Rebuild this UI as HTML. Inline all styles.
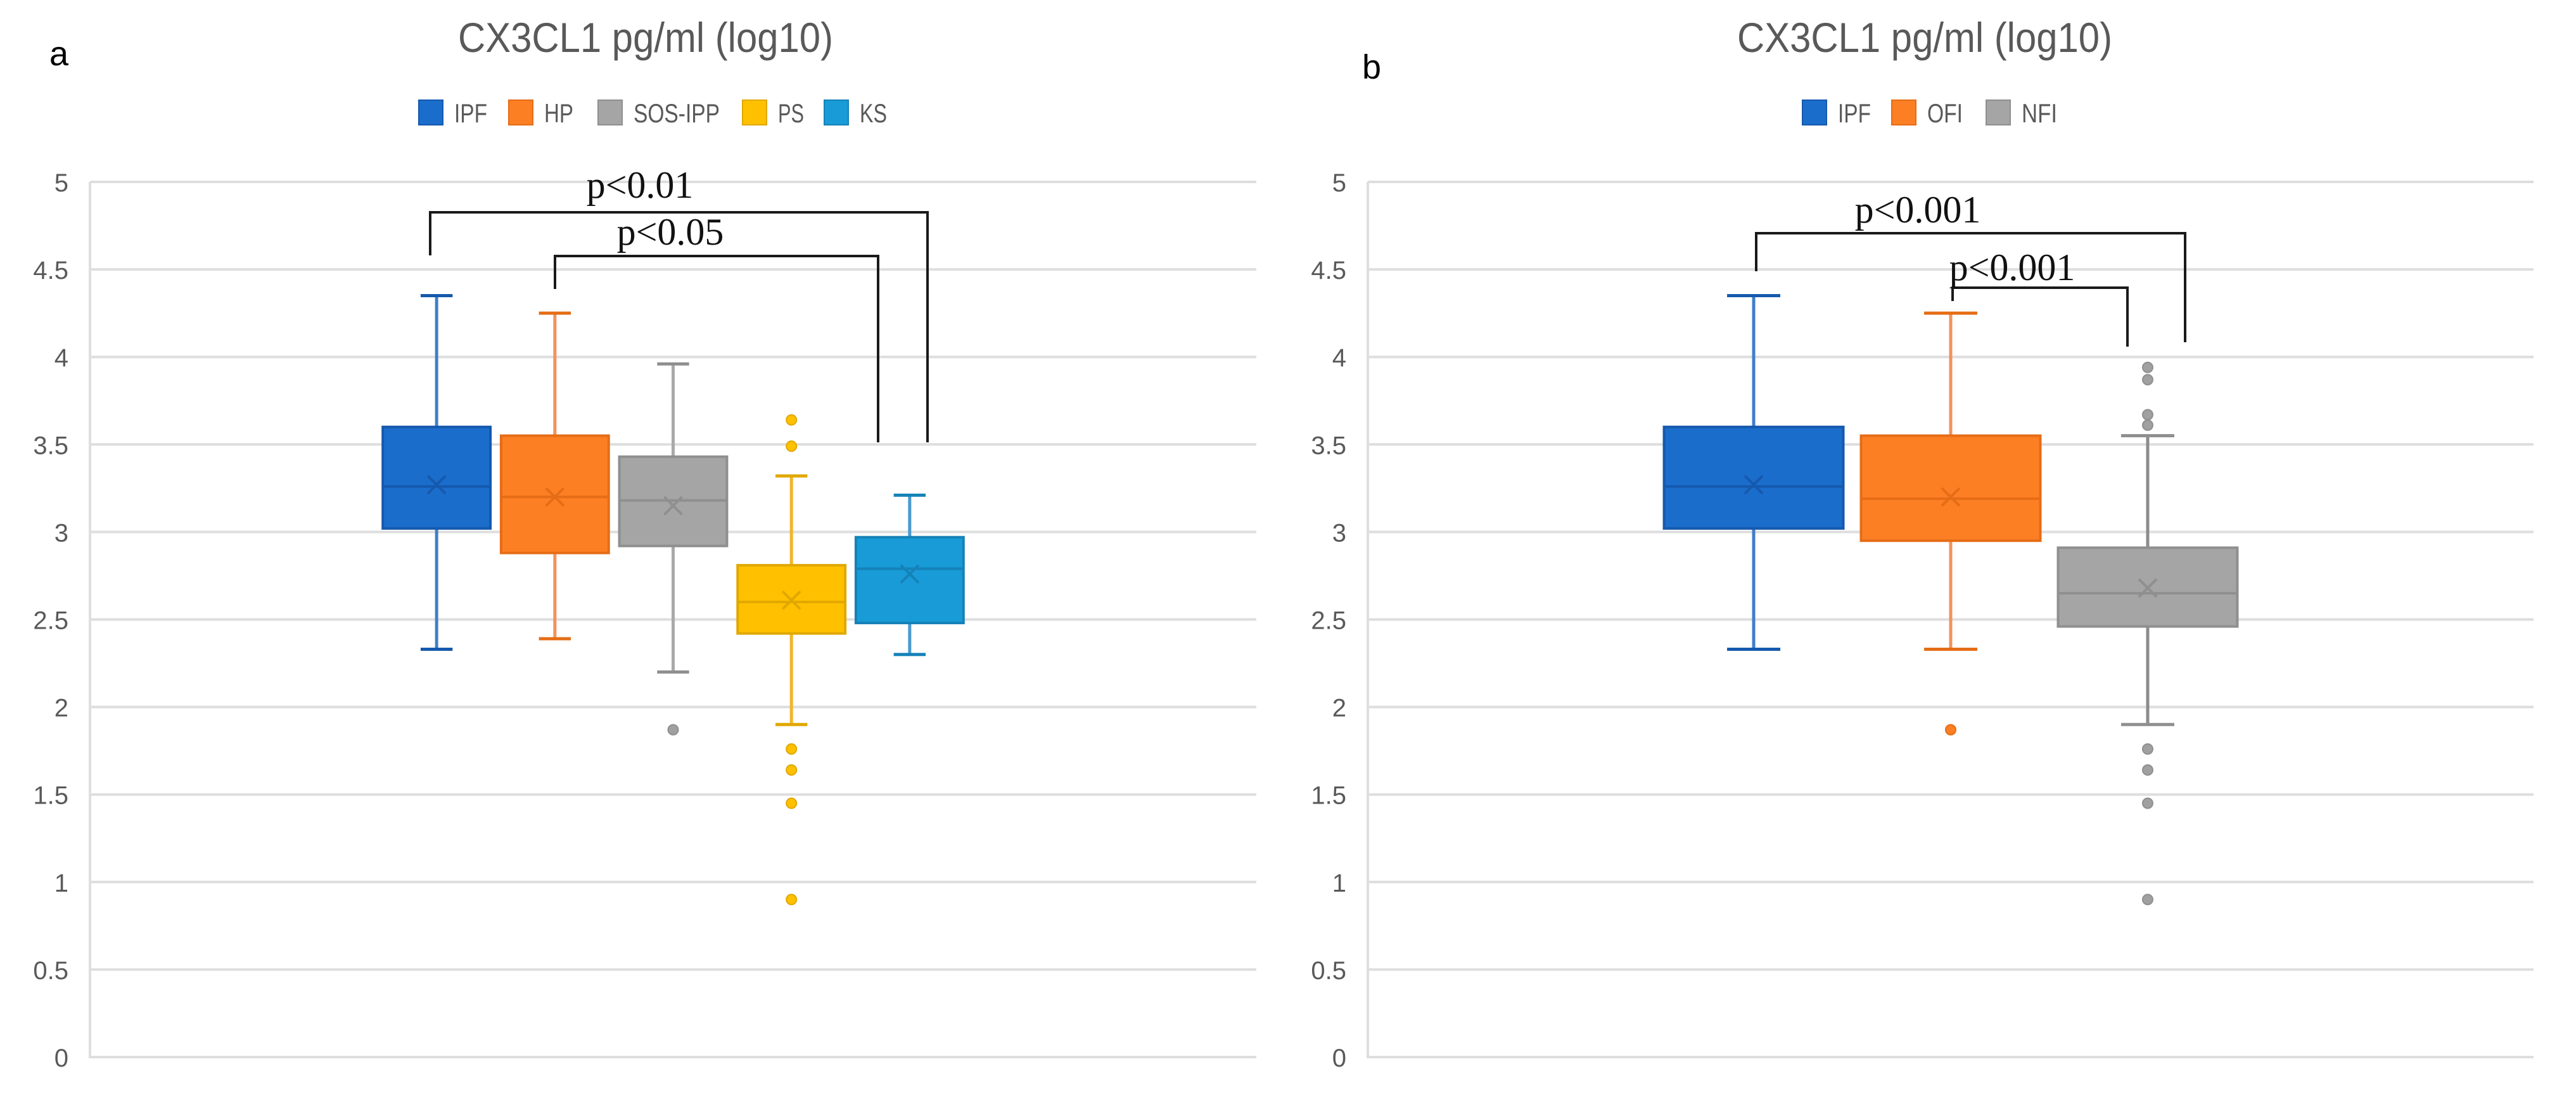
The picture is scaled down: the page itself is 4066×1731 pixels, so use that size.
<!DOCTYPE html>
<html><head><meta charset="utf-8"><style>
html,body{margin:0;padding:0;background:#fff;}
svg{display:block;}
</style></head><body>
<svg id="chart" width="4066" height="1731" xmlns="http://www.w3.org/2000/svg">
<g id="panelA"></g>
<g id="panelB"></g>
</svg>
<script>
// y-axis
const yTicks = [0, 0.5, 1, 1.5, 2, 2.5, 3, 3.5, 4, 4.5, 5];
const yTickLabels = ["0", "0.5", "1", "1.5", "2", "2.5", "3", "3.5", "4", "4.5", "5"];

// Panel a data
const aSeries = ["IPF", "HP", "SOS-IPP", "PS", "KS"];
const aMin = [2.33, 2.39, 2.2, 1.9, 2.3];
const aQ1 = [3.02, 2.88, 2.92, 2.42, 2.48];
const aMedian = [3.26, 3.2, 3.18, 2.6, 2.79];
const aMean = [3.27, 3.2, 3.15, 2.61, 2.76];
const aQ3 = [3.6, 3.55, 3.43, 2.81, 2.97];
const aMax = [4.35, 4.25, 3.96, 3.32, 3.21];
const aOutliers = [[], [], [1.87], [3.64, 3.49, 1.76, 1.64, 1.45, 0.9], []];

// Panel b data
const bSeries = ["IPF", "OFI", "NFI"];
const bMin = [2.33, 2.33, 1.9];
const bQ1 = [3.02, 2.95, 2.46];
const bMedian = [3.26, 3.19, 2.65];
const bMean = [3.27, 3.2, 2.68];
const bQ3 = [3.6, 3.55, 2.91];
const bMax = [4.35, 4.25, 3.55];
const bOutliers = [[], [1.87], [3.94, 3.87, 3.67, 3.61, 1.76, 1.64, 1.45, 0.9]];

const NS = "http://www.w3.org/2000/svg";
const Y0 = 1668, Y5 = 287;
function yScale(v){ return Y0 - (v / 5) * (Y0 - Y5); }
function el(parent, tag, attrs, text){
  const e = document.createElementNS(NS, tag);
  for (const k in attrs) e.setAttribute(k, attrs[k]);
  if (text !== undefined) e.textContent = text;
  parent.appendChild(e);
  return e;
}
const fills = {"IPF":"#1b6dcc","HP":"#fd7f24","OFI":"#fd7f24","SOS-IPP":"#a5a5a5","NFI":"#a5a5a5","PS":"#ffc000","KS":"#189bd7"};
const strokes = {"IPF":"#1559ad","HP":"#e56d16","OFI":"#e56d16","SOS-IPP":"#8f8f8f","NFI":"#8f8f8f","PS":"#e0a800","KS":"#1582b8"};
const whisk = {"IPF":"#3f7fc9","HP":"#f3925a","OFI":"#f3925a","SOS-IPP":"#a9a9a9","NFI":"#8c8c8c","PS":"#f0b62a","KS":"#4a9ad0"};

function panel(g, cfg){
  const L = cfg.left, R = cfg.right;
  for (let i = 0; i < yTicks.length; i++){
    const y = yScale(yTicks[i]);
    const gl = el(g, "line", {x1:L, x2:R, y1:y, y2:y, stroke:"#dedede", "stroke-width":4});
    
    
    const t = el(g, "text", {x:L-34, y:y+15, "text-anchor":"end", "font-family":"Liberation Sans, sans-serif", "font-size":40, fill:"#595959"}, yTickLabels[i]);
    
    
  }
  const ax = el(g, "line", {x1:L, x2:L, y1:Y5, y2:Y0+2, stroke:"#dedede", "stroke-width":4});
  
  
  const tt = el(g, "text", {x:cfg.titleX, y:82, "text-anchor":"middle", "font-family":"Liberation Sans, sans-serif", "font-size":66, fill:"#595959", textLength:592, lengthAdjust:"spacingAndGlyphs"}, "CX3CL1 pg/ml (log10)");
  
  
  const pl = el(g, "text", {x:cfg.labelX, y:cfg.labelY, "font-family":"Liberation Sans, sans-serif", "font-size":54, fill:"#000"}, cfg.label);
  
  
  const n = cfg.series.length;
  for (let i = 0; i < n; i++){
    const s = cfg.series[i];
    const lx = cfg.legendX[i];
    const lg = el(g, "g", {});
    
    
    el(lg, "rect", {x:lx, y:158, width:38, height:39, fill:fills[s], stroke:strokes[s], "stroke-width":2});
    el(lg, "text", {x:lx+56, y:193, "font-family":"Liberation Sans, sans-serif", "font-size":42, fill:"#595959", textLength:cfg.legendW[i], lengthAdjust:"spacingAndGlyphs"}, s);
  }
  const plotW = R - L, center = (L + R) / 2;
  const groupW = plotW * 0.507, slot = groupW / n, bw = slot * 0.91, cap = slot * 0.27;
  for (let i = 0; i < n; i++){
    const s = cfg.series[i];
    const cx = center - groupW/2 + slot*(i+0.5);
    const bg = el(g, "g", {});
    
    
    const yMin = yScale(cfg.min[i]), yMax = yScale(cfg.max[i]), yq1 = yScale(cfg.q1[i]), yq3 = yScale(cfg.q3[i]);
    el(bg, "line", {x1:cx, x2:cx, y1:yMax, y2:yq3, stroke:whisk[s], "stroke-width":5});
    el(bg, "line", {x1:cx, x2:cx, y1:yq1, y2:yMin, stroke:whisk[s], "stroke-width":5});
    el(bg, "line", {x1:cx-cap/2, x2:cx+cap/2, y1:yMax, y2:yMax, stroke:strokes[s], "stroke-width":5});
    el(bg, "line", {x1:cx-cap/2, x2:cx+cap/2, y1:yMin, y2:yMin, stroke:strokes[s], "stroke-width":5});
    el(bg, "rect", {x:cx-bw/2, y:yq3, width:bw, height:yq1-yq3, fill:fills[s], stroke:strokes[s], "stroke-width":4});
    const ym = yScale(cfg.median[i]);
    el(bg, "line", {x1:cx-bw/2, x2:cx+bw/2, y1:ym, y2:ym, stroke:strokes[s], "stroke-width":4});
    const yme = yScale(cfg.mean[i]);
    el(bg, "path", {d:`M${cx-14},${yme-14}L${cx+14},${yme+14}M${cx-14},${yme+14}L${cx+14},${yme-14}`, stroke:strokes[s], "stroke-width":4, fill:"none"});
    for (const o of cfg.outliers[i]){
      const c = el(bg, "circle", {cx:cx, cy:yScale(o), r:8, fill:fills[s] === "#a5a5a5" ? "#a0a0a0" : fills[s], stroke:strokes[s], "stroke-width":2});
      
      
    }
  }
  for (const b of cfg.brackets){
    const bk = el(g, "g", {});
    
    
    el(bk, "path", {d:`M${b.x1},${b.y1}L${b.x1},${b.y}L${b.x2},${b.y}L${b.x2},${b.y2}`, stroke:"#1a1a1a", "stroke-width":4, fill:"none"});
    el(bk, "text", {x:b.tx, y:b.ty, "text-anchor":"middle", "font-family":"Liberation Serif, serif", "font-size":60, fill:"#111"}, b.t);
  }
}

panel(document.getElementById("panelA"), {
  left:142, right:1983, titleX:1019, label:"a", labelX:78, labelY:103,
  series:aSeries, min:aMin, q1:aQ1, median:aMedian, mean:aMean, q3:aQ3, max:aMax, outliers:aOutliers,
  legendX:[661, 803, 944, 1172, 1301],
  legendW:[52, 46, 136, 41, 43],
  brackets:[
    {x1:679, x2:1464, y:335, y1:403, y2:698, t:"p<0.01", tx:1010, ty:312},
    {x1:876, x2:1386, y:404, y1:456, y2:698, t:"p<0.05", tx:1058, ty:386}
  ]
});
panel(document.getElementById("panelB"), {
  left:2159, right:3999, titleX:3038, label:"b", labelX:2150, labelY:124,
  series:bSeries, min:bMin, q1:bQ1, median:bMedian, mean:bMean, q3:bQ3, max:bMax, outliers:bOutliers,
  legendX:[2845, 2986, 3135],
  legendW:[52, 56, 56],
  brackets:[
    {x1:2772, x2:3449, y:368, y1:428, y2:540, t:"p<0.001", tx:3027, ty:351},
    {x1:3082, x2:3358, y:454, y1:475, y2:547, t:"p<0.001", tx:3176, ty:442}
  ]
});
</script>
</body></html>
